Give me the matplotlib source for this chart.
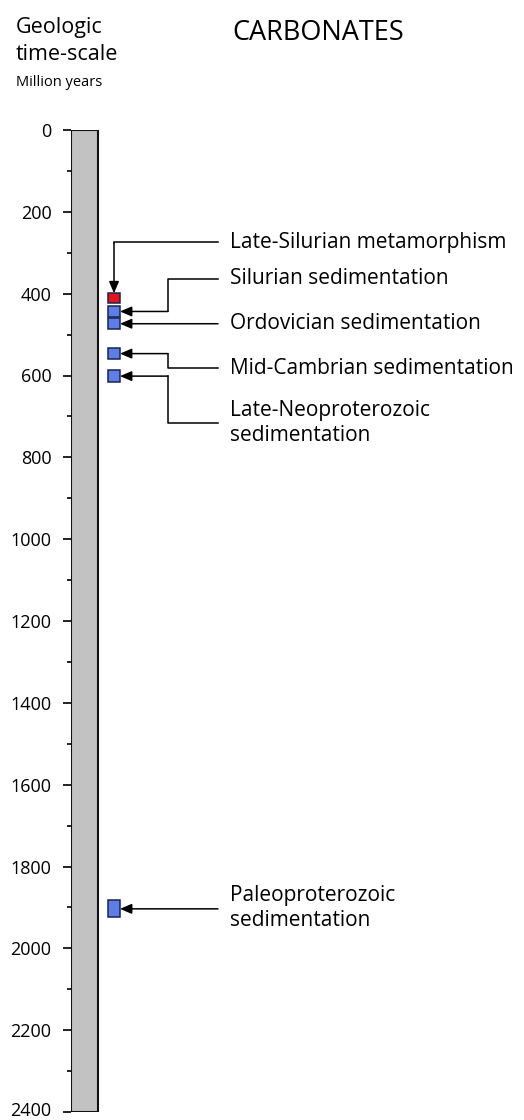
import matplotlib
matplotlib.use("Agg")
import matplotlib.pyplot as plt
from matplotlib.transforms import ScaledTranslation

# ---- data ----
events = ["Late-Silurian metamorphism", "Silurian sedimentation", "Ordovician sedimentation",
          "Mid-Cambrian sedimentation", "Late-Neoproterozoic\nsedimentation",
          "Paleoproterozoic\nsedimentation"]
age_start = [399, 430, 460, 533, 587, 1883]   # Ma (top of box)
age_end = [423, 457, 487, 560, 616, 1924]     # Ma (bottom of box)
event_type = ["metamorphism", "sedimentation", "sedimentation", "sedimentation",
              "sedimentation", "sedimentation"]
label_age = [274, 364, 473, 582, 715, 1901]    # Ma where the leader line meets the label
major_ticks = list(range(0, 2401, 200))
minor_ticks = list(range(100, 2400, 200))
scale_max = 2400

colors = {"metamorphism": "#e3141c", "sedimentation": "#5b7fe6"}

plt.rcParams['font.family'] = ['Open Sans', 'DejaVu Sans']

W, H = 524, 1120
fig = plt.figure(figsize=(W / 100, H / 100), dpi=100)
ax = fig.add_axes([71 / W, 1 - 1112 / H, (W - 71) / W, (1112 - 130) / H])
ax.set_xlim(0, W - 71)
ax.set_ylim(scale_max, 0)
ax.patch.set_alpha(0)
for s in ax.spines.values():
    s.set_visible(False)

# time-scale bar
ax.bar(0, scale_max, width=27, bottom=0, align='edge', color='#c2c2c2',
       edgecolor='#111111', linewidth=1.5, zorder=2)

# ticks
ax.set_yticks(major_ticks)
ax.set_yticklabels([str(t) for t in major_ticks])
ax.set_yticks(minor_ticks, minor=True)
ax.tick_params(axis='y', which='major', length=6, width=1.3, pad=8, labelsize=13, color='#111111')
ax.tick_params(axis='y', which='minor', length=3, width=1.3, color='#111111')
ax.set_xticks([])

# keep the bottom label inside the figure
last = ax.get_yticklabels()[-1]
last.set_va('bottom')
last.set_transform(last.get_transform() + ScaledTranslation(0, -7.5 / 100, fig.dpi_scale_trans))

# event boxes
box_x, box_w = 37, 12
for s, e, t in zip(age_start, age_end, event_type):
    ax.bar(box_x, e - s, width=box_w, bottom=s, align='edge', color=colors[t],
           edgecolor='#1b2350', linewidth=1.1, zorder=3)

# leader lines
elbow_x = 97
line_end_x = 147
text_x = 159
arrow_kw = dict(arrowstyle='-|>,head_length=0.7,head_width=0.3', color='black', lw=1.1,
                shrinkA=0, shrinkB=0)
for i, (name, s, e, la) in enumerate(zip(events, age_start, age_end, label_age)):
    mid = (s + e) / 2
    if i == 0:
        cx = box_x + box_w / 2
        ax.plot([line_end_x, cx, cx], [la, la, la + 1], color='black', lw=1.1)
        ax.annotate('', xy=(cx, s), xytext=(cx, la), arrowprops=arrow_kw)
    elif abs(la - mid) < 3:
        ax.annotate('', xy=(box_x + box_w, mid), xytext=(line_end_x, mid), arrowprops=arrow_kw)
    else:
        ax.plot([line_end_x, elbow_x, elbow_x], [la, la, mid], color='black', lw=1.1)
        ax.annotate('', xy=(box_x + box_w, mid), xytext=(elbow_x, mid), arrowprops=arrow_kw)
    ax.text(text_x, la, name, fontsize=15, va='center', ha='left', linespacing=1.25)

# headings
fig.text(16 / W, 1 - 27 / H, "Geologic", fontsize=15.5, va='center', ha='left')
fig.text(16 / W, 1 - 54 / H, "time-scale", fontsize=15.5, va='center', ha='left')
fig.text(16 / W, 1 - 83 / H, "Million years", fontsize=10.5, va='center', ha='left')
fig.text(318 / W, 1 - 33 / H, "CARBONATES", fontsize=19.5, va='center', ha='center')

fig.savefig("out.png", dpi=100)
